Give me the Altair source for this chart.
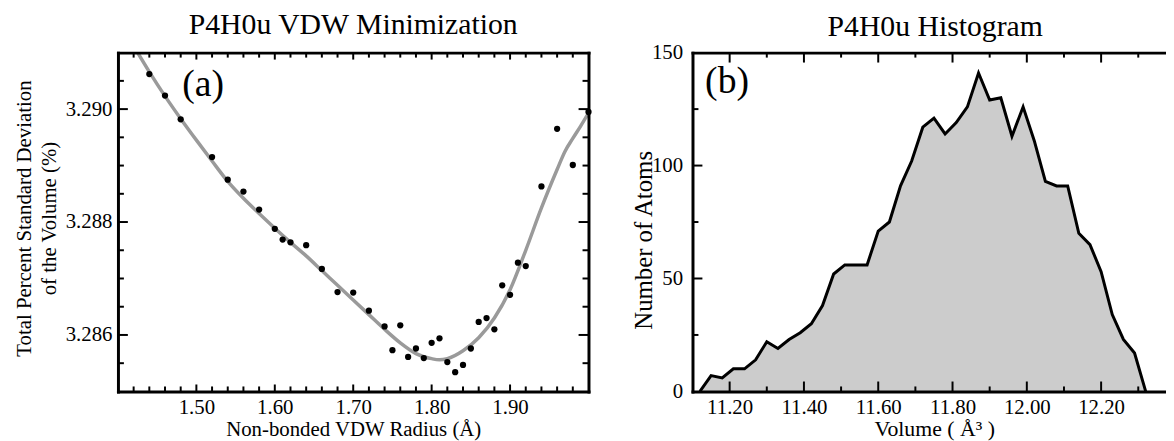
import altair as alt
import pandas as pd

FONT = "Liberation Serif"

# ---------------- Panel (a): VDW minimization ----------------
radius = [1.44, 1.46, 1.48, 1.52, 1.54, 1.56, 1.58, 1.60, 1.61, 1.62, 1.64, 1.66, 1.68,
          1.70, 1.72, 1.74, 1.75, 1.76, 1.77, 1.78, 1.79, 1.80, 1.81, 1.82, 1.83, 1.84,
          1.85, 1.86, 1.87, 1.88, 1.89, 1.90, 1.91, 1.92, 1.94, 1.96, 1.98, 2.00]
stddev = [3.29062, 3.29024, 3.28982, 3.28915, 3.28875, 3.28854, 3.28822, 3.28788, 3.28769,
          3.28764, 3.28759, 3.28717, 3.28676, 3.28675, 3.28643, 3.28615, 3.28573, 3.28617,
          3.28561, 3.28576, 3.28559, 3.28586, 3.28594, 3.28552, 3.28534, 3.28547, 3.28576,
          3.28623, 3.28630, 3.28610, 3.28688, 3.28671, 3.28728, 3.28722, 3.28863, 3.28965,
          3.28901, 3.28995]

fit_r = [1.42, 1.44, 1.46, 1.48, 1.50, 1.52, 1.54, 1.56, 1.58, 1.60, 1.62, 1.64, 1.66, 1.68,
         1.70, 1.72, 1.74, 1.76, 1.78, 1.80, 1.81, 1.82, 1.84, 1.86, 1.88, 1.90, 1.92, 1.94,
         1.96, 1.97, 1.98, 1.99, 2.00]
fit_v = [3.29112, 3.29066, 3.29023, 3.28983, 3.28945, 3.28908, 3.28872, 3.28842, 3.28815,
         3.28789, 3.28764, 3.28740, 3.28714, 3.28688, 3.28662, 3.28636, 3.28610, 3.28586,
         3.28567, 3.28558, 3.28556, 3.28558, 3.28572, 3.28595, 3.28630, 3.28680, 3.28750,
         3.28825, 3.28893, 3.28925, 3.28948, 3.28970, 3.28993]

a_x_major = [1.50, 1.60, 1.70, 1.80, 1.90]
a_x_minor = [1.42, 1.44, 1.46, 1.48, 1.52, 1.54, 1.56, 1.58, 1.62, 1.64, 1.66, 1.68, 1.72,
             1.74, 1.76, 1.78, 1.82, 1.84, 1.86, 1.88, 1.92, 1.94, 1.96, 1.98]
a_y_major = [3.286, 3.288, 3.290]
a_y_minor = [3.2855, 3.2865, 3.2870, 3.2875, 3.2885, 3.2890, 3.2895, 3.2905]
a_label = ["(a)"]
a_label_x = [1.5086]
a_label_y = [3.29042]

# ---------------- Panel (b): histogram ----------------
volume = [11.12, 11.15, 11.18, 11.21, 11.24, 11.27, 11.30, 11.33, 11.36, 11.39, 11.42, 11.45,
          11.48, 11.51, 11.54, 11.57, 11.60, 11.63, 11.66, 11.69, 11.72, 11.75, 11.78, 11.81,
          11.84, 11.87, 11.90, 11.93, 11.96, 11.99, 12.02, 12.05, 12.08, 12.11, 12.14, 12.17,
          12.20, 12.23, 12.26, 12.29, 12.32]
atoms = [0, 7, 6, 10, 10, 14, 22, 19, 23, 26, 30, 38, 52, 56, 56, 56, 71, 75, 91, 102, 117,
         121, 114, 119, 126, 141, 129, 130, 113, 126, 111, 93, 91, 91, 70, 65, 53, 34, 23, 17, 0]

b_x_major = [11.20, 11.40, 11.60, 11.80, 12.00, 12.20]
b_x_minor = [11.30, 11.50, 11.70, 11.90, 12.10, 12.30]
b_y_major = [0, 50, 100, 150]
b_y_inner_major = [50, 100]
b_y_minor = [25, 75, 125]
b_label = ["(b)"]
b_label_x = [11.193]
b_label_y = [136.8]

H = 342
WL = 475
WR = 478

xs_a = alt.Scale(domain=[1.40, 2.00], nice=False, zero=False)
ys_a = alt.Scale(domain=[3.285, 3.291], nice=False, zero=False)
xs_b = alt.Scale(domain=[11.10, 11.10 + WR / 375.0], nice=False, zero=False)
ys_b = alt.Scale(domain=[0, 150], nice=False, zero=False)


def ax(**kw):
    base = dict(labelFont=FONT, labelFontSize=21, labelColor="black",
                titleFont=FONT, titleFontSize=21, titleColor="black",
                titleFontWeight="normal", domainColor="black", domainWidth=3,
                domainCap="square", ticks=False, tickSize=0, grid=False, zindex=1,
                labelFlush=False, labelOverlap=False)
    base.update(kw)
    return alt.Axis(**base)


def frame_axis(orient):
    return ax(orient=orient, labels=False, title=None)


def xtick_layers(vals, length, xscale, top_axis=None):
    df = pd.DataFrame({"v": vals})
    rule = alt.Chart(df).mark_rule(color="black", strokeWidth=2)
    bottom = rule.encode(x=alt.X("v:Q", scale=xscale, axis=None),
                         y=alt.value(H), y2=alt.value(H - length))
    top = rule.encode(x=alt.X("v:Q", scale=xscale,
                              axis=top_axis if top_axis is not None else None),
                      y=alt.value(0), y2=alt.value(length))
    return [bottom, top]


def ytick_layers(vals, length, yscale, width, right=True, right_axis=None):
    df = pd.DataFrame({"v": vals})
    rule = alt.Chart(df).mark_rule(color="black", strokeWidth=2)
    out = [rule.encode(y=alt.Y("v:Q", scale=yscale, axis=None),
                       x=alt.value(0), x2=alt.value(length))]
    if right:
        out.append(rule.encode(y=alt.Y("v:Q", scale=yscale,
                                       axis=right_axis if right_axis is not None else None),
                               x=alt.value(width), x2=alt.value(width - length)))
    return out


# ---- panel (a) layers
pts = pd.DataFrame({"r": radius, "s": stddev})
fit = pd.DataFrame({"r": fit_r, "s": fit_v})
lab_a = pd.DataFrame({"t": a_label, "x": a_label_x, "y": a_label_y})

curve = alt.Chart(fit).mark_line(color="#9a9a9a", strokeWidth=3.5, clip=True,
                                 interpolate="monotone").encode(
    x=alt.X("r:Q", scale=xs_a, axis=None),
    y=alt.Y("s:Q", scale=ys_a, axis=None))

points = alt.Chart(pts).mark_circle(color="black", size=40, opacity=1).encode(
    x=alt.X("r:Q", scale=xs_a,
            axis=ax(orient="bottom", values=a_x_major, format=".2f",
                    title="Non-bonded VDW Radius (Å)", labelPadding=5, titlePadding=2)),
    y=alt.Y("s:Q", scale=ys_a,
            axis=ax(orient="left", values=a_y_major, format=".3f",
                    title=["Total Percent Standard Deviation", "of the Volume (%)"],
                    titleLineHeight=25, labelPadding=6, titlePadding=6, titleY=167)))

text_a = alt.Chart(lab_a).mark_text(font=FONT, fontSize=38, color="black",
                                    align="center", baseline="middle").encode(
    x=alt.X("x:Q", scale=xs_a, axis=None),
    y=alt.Y("y:Q", scale=ys_a, axis=None),
    text="t:N")

a_layers = [curve, points, text_a]
a_layers += xtick_layers(a_x_major, 7, xs_a, top_axis=frame_axis("top"))
a_layers += xtick_layers(a_x_minor, 5, xs_a)
a_layers += ytick_layers(a_y_major, 10, ys_a, WL, right_axis=frame_axis("right"))
a_layers += ytick_layers(a_y_minor, 6, ys_a, WL)

left = alt.layer(*a_layers).resolve_axis(x="independent", y="independent").properties(
    width=WL, height=H,
    title=alt.TitleParams("P4H0u VDW Minimization", font=FONT, fontSize=30,
                          fontWeight="normal", color="black", offset=12, frame="group"))

# ---- panel (b) layers
hist = pd.DataFrame({"v": volume, "n": atoms})
lab_b = pd.DataFrame({"t": b_label, "x": b_label_x, "y": b_label_y})

area = alt.Chart(hist).mark_area(color="#cccccc", opacity=1).encode(
    x=alt.X("v:Q", scale=xs_b,
            axis=ax(orient="bottom", values=b_x_major, format=".2f",
                    title="Volume ( Å³ )", titleFontSize=22,
                    labelPadding=5, titlePadding=2, titleX=244)),
    y=alt.Y("n:Q", scale=ys_b,
            axis=ax(orient="left", values=b_y_major, format="d",
                    title="Number of Atoms", titleFontSize=25,
                    labelPadding=10, titlePadding=-5, titleY=189)))

outline = alt.Chart(hist).mark_line(color="black", strokeWidth=3).encode(
    x=alt.X("v:Q", scale=xs_b, axis=None),
    y=alt.Y("n:Q", scale=ys_b, axis=None))

text_b = alt.Chart(lab_b).mark_text(font=FONT, fontSize=38, color="black",
                                    align="center", baseline="middle").encode(
    x=alt.X("x:Q", scale=xs_b, axis=None),
    y=alt.Y("y:Q", scale=ys_b, axis=None),
    text="t:N")

b_layers = [area, outline, text_b]
b_layers += xtick_layers(b_x_major, 10, xs_b, top_axis=frame_axis("top"))
b_layers += xtick_layers(b_x_minor, 5, xs_b)
b_layers += ytick_layers(b_y_inner_major, 10, ys_b, WR, right=False)
b_layers += ytick_layers(b_y_minor, 6, ys_b, WR, right=False)

right = alt.layer(*b_layers).resolve_axis(x="independent", y="independent").properties(
    width=WR, height=H,
    title=alt.TitleParams("P4H0u Histogram", font=FONT, fontSize=30,
                          fontWeight="normal", color="black", offset=0, dx=6,
                          frame="group"))

chart = alt.hconcat(left, right, spacing=105, bounds="flush").properties(
    padding={"left": 5, "top": 0, "right": 0, "bottom": 0}
).configure_view(strokeWidth=0)

chart.save("out.html", embed_options={"renderer": "svg", "actions": False})
